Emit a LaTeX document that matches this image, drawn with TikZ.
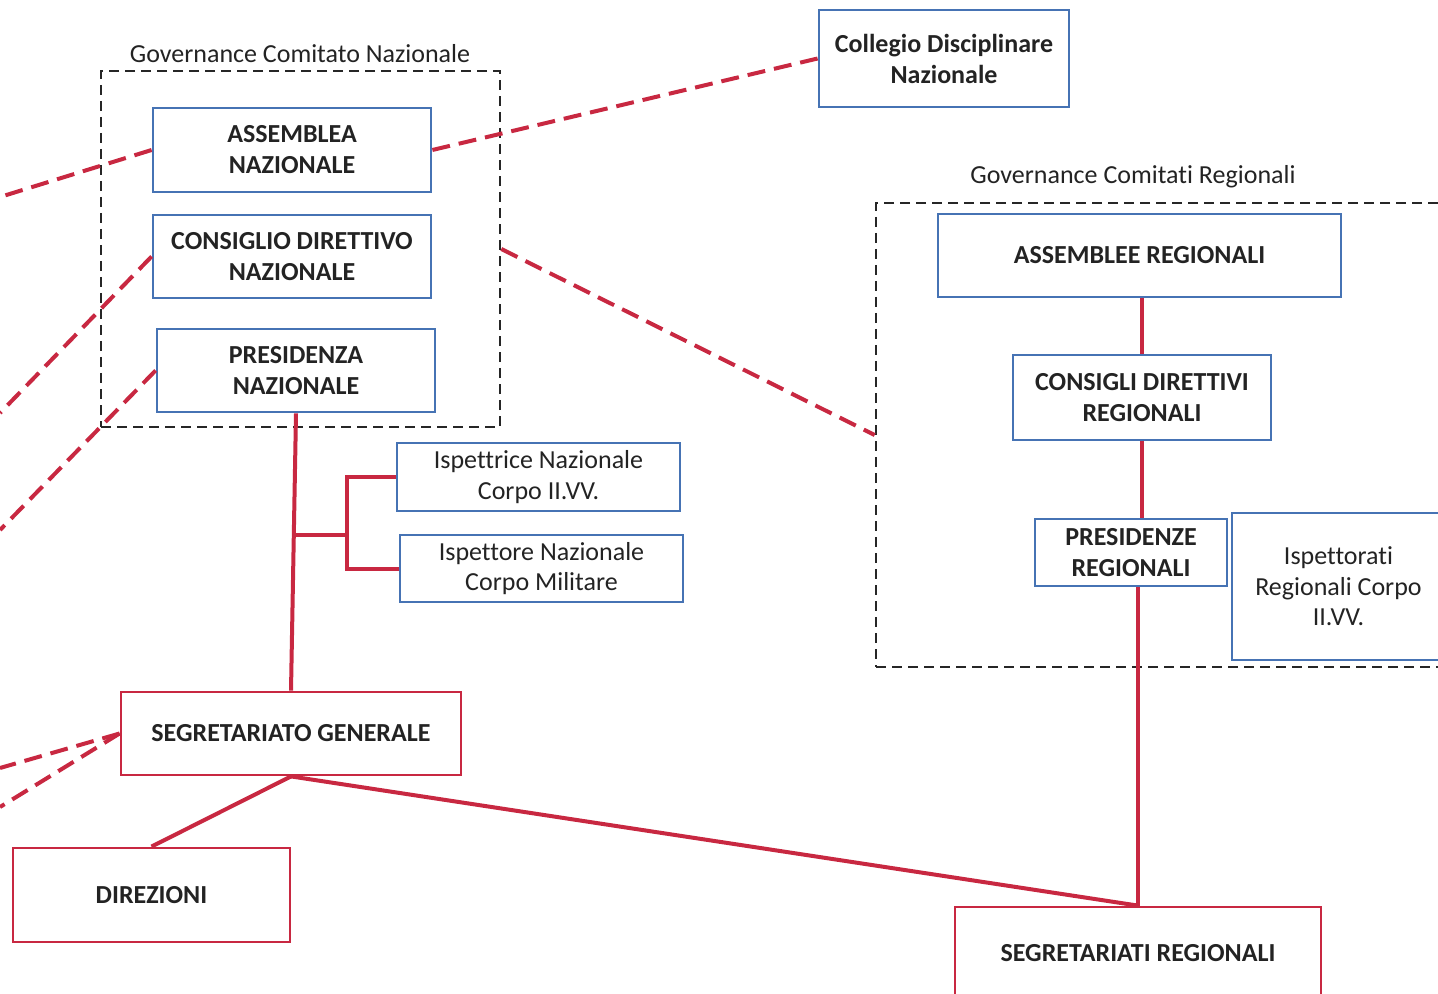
\documentclass[tikz,border=0pt]{standalone}
\usepackage{fontspec}
\setmainfont{Carlito}[Ligatures=NoCommon]
\usepackage{tikz}

\definecolor{boxblue}{RGB}{70,115,180}
\definecolor{linered}{RGB}{200,40,65}
\definecolor{textdark}{RGB}{35,35,35}

\tikzset{
  bluebox/.style={draw=boxblue,line width=1.4pt,align=center,inner sep=2pt,text=textdark,
    font=\fontsize{13}{15.5}\selectfont\bfseries},
  bluetext/.style={bluebox,font=\fontsize{13}{15.2}\selectfont},
  redbox/.style={bluebox,draw=linered},
  govarea/.style={draw=black!85,line width=1.3pt,dash pattern=on 5pt off 3pt},
  govtitle/.style={text=textdark,font=\fontsize{13}{15}\selectfont,inner sep=1pt},
  tieline/.style={draw=linered,line width=2pt},
  extlink/.style={draw=linered,line width=2pt,dash pattern=on 9pt off 4.5pt}
}

\begin{document}
\begin{tikzpicture}[x=0.5pt,y=0.5pt,yscale=-1,xscale=1]
\useasboundingbox (0,0) rectangle (1438,994);

% Governance areas
\node [govarea,minimum width=199.5pt,minimum height=178pt] (natBox) at (300.5,249) {};
\node [govarea,minimum width=284.5pt,minimum height=232pt] (regBox) at (1160.5,435) {};
\node [govtitle] (natTitle) at (300,54) {Governance Comitato Nazionale};
\node [govtitle] (regTitle) at (1133,177) {Governance Comitati Regionali};

% National boxes
\node [bluebox,minimum width=139pt,minimum height=42pt] (assN) at (292,150) {ASSEMBLEA\\NAZIONALE};
\node [bluebox,minimum width=139pt,minimum height=41.5pt] (consN) at (292,256.5) {CONSIGLIO DIRETTIVO\\NAZIONALE};
\node [bluebox,minimum width=139pt,minimum height=41.5pt] (presN) at (296,370.5) {PRESIDENZA\\NAZIONALE};
\node [bluebox,minimum width=125pt,minimum height=48.5pt] (colleg) at (944,58.5) {Collegio Disciplinare\\Nazionale};

% Inspectors
\node [bluetext,minimum width=141.5pt,minimum height=34pt] (ispF) at (538.5,477) {Ispettrice Nazionale\\Corpo II.VV.};
\node [bluetext,minimum width=141.5pt,minimum height=33.5pt] (ispM) at (541.5,568.5) {Ispettore Nazionale\\Corpo Militare};

% Regional boxes
\node [bluebox,minimum width=201.5pt,minimum height=41.5pt] (assR) at (1139.5,255.5) {ASSEMBLEE REGIONALI};
\node [bluebox,minimum width=129pt,minimum height=42.5pt] (consR) at (1142,397.5) {CONSIGLI DIRETTIVI\\REGIONALI};
\node [bluebox,minimum width=96pt,minimum height=33.5pt] (presR) at (1131,552.5) {PRESIDENZE\\REGIONALI};
\node [bluetext,minimum width=106.5pt,minimum height=73.5pt] (ispR) at (1338.5,586.5) {Ispettorati\\Regionali Corpo\\II.VV.};

% Secretariats
\node [redbox,minimum width=170pt,minimum height=41.5pt] (segG) at (291,733.5) {SEGRETARIATO GENERALE};
\node [redbox,minimum width=138.5pt,minimum height=47pt] (dir) at (151.5,895) {DIREZIONI};
\node [redbox,minimum width=183pt,minimum height=46pt] (segR) at (1138,953) {SEGRETARIATI REGIONALI};

% Solid links
\coordinate (brJ) at (295,535);
\coordinate (brV) at (347,535);
\draw [tieline] (presN.south) -- (segG.north);
\draw [tieline] (brJ) -- (brV);
\draw [tieline] (ispF.west) -| (brV) |- (ispM.west);
\draw [tieline] (segG.south) -- (dir.north);
\draw [tieline] (segG.south) -- (segR.north);
\draw [tieline] (assR.south -| consR.north) -- (consR.north);
\draw [tieline] (consR.south) -- (consR.south |- presR.north);
\draw [tieline] (segR.north) -- (segR.north |- presR.south);

% Dashed links
\coordinate (outA) at (0,197);
\coordinate (outB) at (0,413);
\coordinate (outC) at (0,530);
\coordinate (outD) at (0,768);
\coordinate (outE) at (0,807);
\draw [extlink] (assN.east) -- (colleg.west);
\draw [extlink] (natBox.east) -- (regBox.west);
\draw [extlink] (assN.west) -- (outA);
\draw [extlink] (consN.west) -- (outB);
\draw [extlink] (presN.west) -- (outC);
\draw [extlink] (segG.west) -- (outD);
\draw [extlink] (segG.west) -- (outE);

\end{tikzpicture}
\end{document}
